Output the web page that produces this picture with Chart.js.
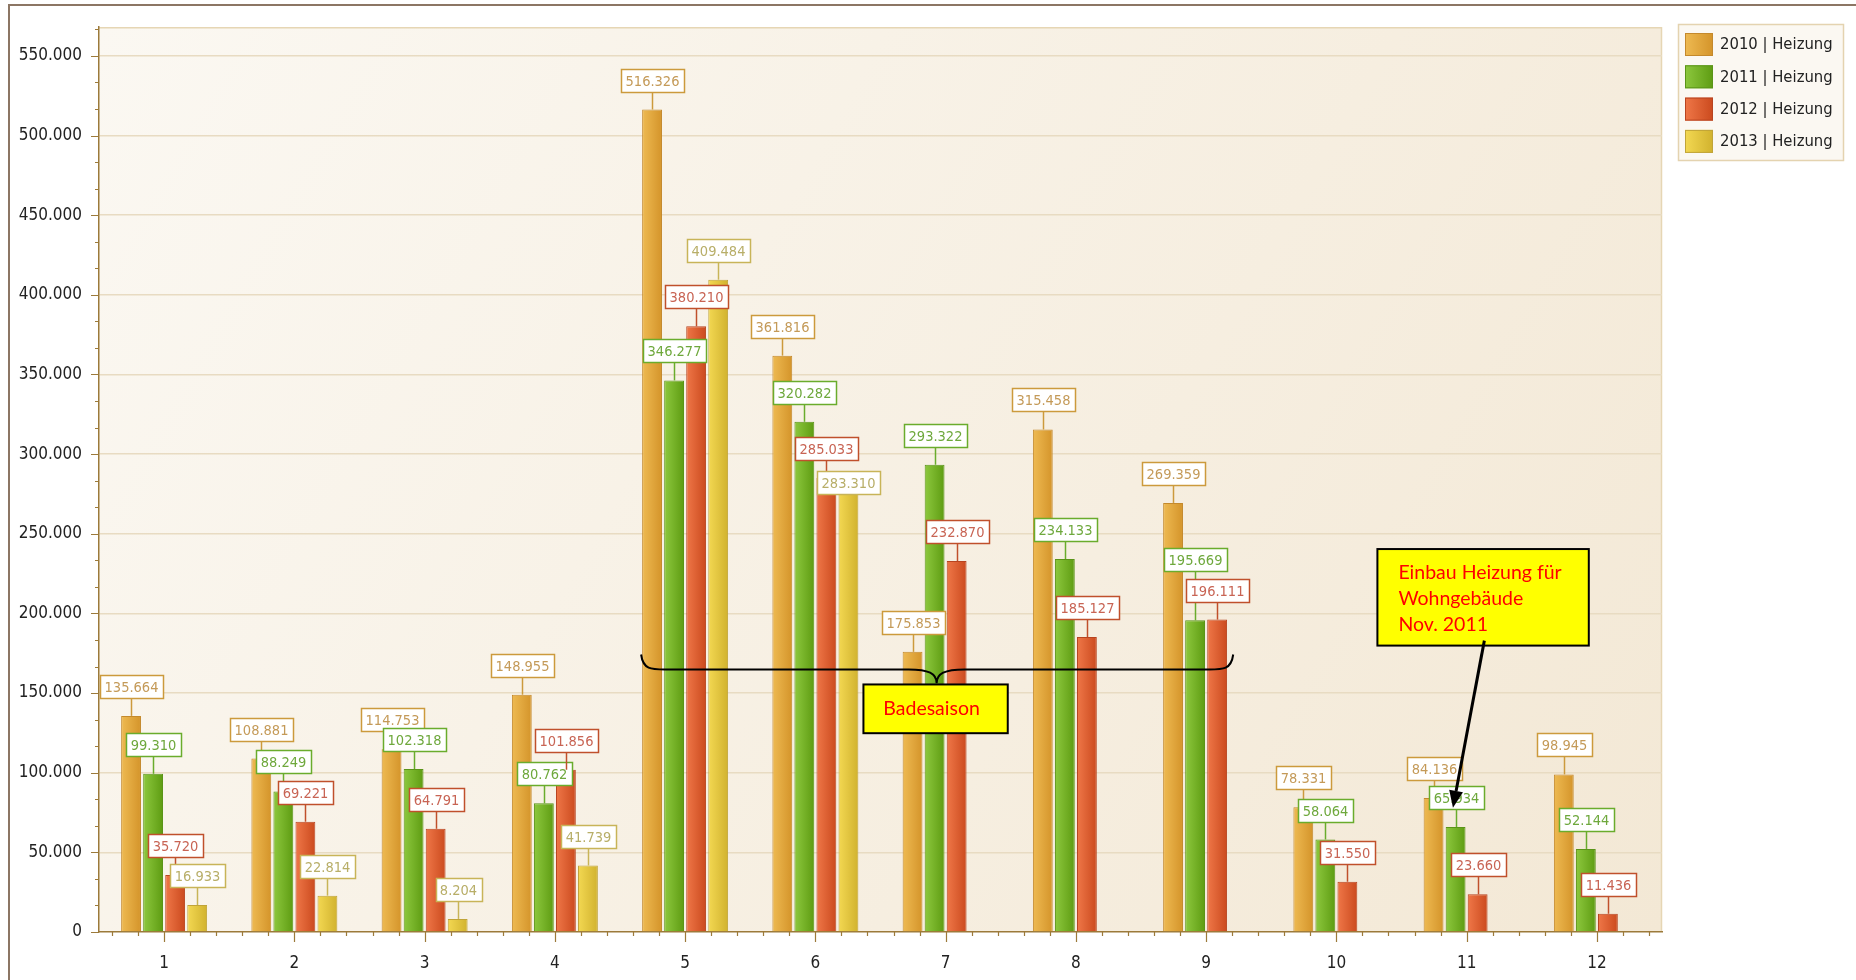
<!DOCTYPE html>
<html>
<head>
<meta charset="utf-8">
<script src="https://cdn.jsdelivr.net/npm/chart.js@4/dist/chart.umd.min.js"></script>
<style>
  html, body { margin: 0; padding: 0; background: #ffffff; }
  #wrap { position: relative; width: 1856px; height: 980px; overflow: hidden; }
  #frame { position: absolute; left: 8px; top: 4px; right: -10px; bottom: -10px;
           border-top: 2px solid #8C7664; border-left: 2px solid #8C7664; pointer-events: none; }
  canvas { position: absolute; left: 0; top: 0; }
</style>
</head>
<body>
<div id="wrap">
  <canvas id="c" width="1856" height="980"></canvas>
  <div id="frame"></div>
</div>
<script>
// ---------------- data ----------------
const months = ['1', '2', '3', '4', '5', '6', '7', '8', '9', '10', '11', '12'];
const seriesLabels = ['2010 | Heizung', '2011 | Heizung', '2012 | Heizung', '2013 | Heizung'];
const heizung2010 = [135664, 108881, 114753, 148955, 516326, 361816, 175853, 315458, 269359, 78331, 84136, 98945];
const heizung2011 = [99310, 88249, 102318, 80762, 346277, 320282, 293322, 234133, 195669, 58064, 65934, 52144];
const heizung2012 = [35720, 69221, 64791, 101856, 380210, 285033, 232870, 185127, 196111, 31550, 23660, 11436];
const heizung2013 = [16933, 22814, 8204, 41739, 409484, 283310, null, null, null, null, null, null];
const yTickValues = [0, 50000, 100000, 150000, 200000, 250000, 300000, 350000, 400000, 450000, 500000, 550000];
const yTickStep = 50000;
const yMax = 568000;
const noteSeason = 'Badesaison';
const noteHeating = ['Einbau Heizung für', 'Wohngebäude', 'Nov. 2011'];

// ---------------- styles ----------------
const FONT = '"DejaVu Sans Condensed", "DejaVu Sans", sans-serif';
const NOTE_FONT = 'Lato, "Open Sans", sans-serif';
const styles = [
  { light: '#EEBA52', dark: '#D4942A', border: '#C4892C', lblBorder: '#CC9A3C', lblText: '#C49A58' },
  { light: '#8DC83E', dark: '#5E9C12', border: '#5A9418', lblBorder: '#6AAC2C', lblText: '#6EA83C' },
  { light: '#EF7748', dark: '#CB4A1E', border: '#B84420', lblBorder: '#C0502C', lblText: '#C86454' },
  { light: '#F3D852', dark: '#D1B22E', border: '#C0A438', lblBorder: '#C8B458', lblText: '#B8AE68' }
];
const CAT_PCT = 0.677, BAR_PCT = 0.9;
// labels the original chart moved to avoid overlapping a neighbour (series, month index, direction)
const labelNudges = [{ series: 3, month: 5, dir: 1 }, { series: 1, month: 8, dir: -1 }];

function fmt(v) { return String(Math.round(v)).replace(/\B(?=(\d{3})+(?!\d))/g, '.'); }

function barFill(ctx) {
  const chart = ctx.chart;
  const st = styles[ctx.datasetIndex];
  const xs = chart.scales.x;
  if (!chart.chartArea || !xs || ctx.dataIndex === undefined) return st.dark;
  const catW = xs.width / months.length;
  const slot = catW * CAT_PCT / 4;
  const c = xs.getPixelForValue(ctx.dataIndex) + (ctx.datasetIndex - 1.5) * slot;
  const w = slot * BAR_PCT;
  const g = chart.ctx.createLinearGradient(c - w / 2, 0, c + w / 2, 0);
  g.addColorStop(0, st.light);
  g.addColorStop(1, st.dark);
  return g;
}

const seriesData = [heizung2010, heizung2011, heizung2012, heizung2013];
const datasets = seriesData.map((d, i) => ({
  label: seriesLabels[i],
  data: d,
  backgroundColor: barFill,
  borderColor: styles[i].border,
  borderWidth: 1,
  categoryPercentage: CAT_PCT,
  barPercentage: BAR_PCT
}));

// ---------------- plugins ----------------
const plotBg = {
  id: 'plotBg',
  beforeDraw(chart) {
    const { ctx, chartArea: a } = chart;
    const g = ctx.createLinearGradient(a.left, a.top, a.right, a.bottom);
    g.addColorStop(0, '#FBF8F2');
    g.addColorStop(1, '#F3E8D5');
    ctx.save();
    ctx.fillStyle = g;
    ctx.fillRect(a.left, a.top, a.right - a.left, a.bottom - a.top);
    ctx.strokeStyle = '#E6D6B4';
    ctx.lineWidth = 1.5;
    ctx.beginPath();
    ctx.moveTo(a.left, a.top + 0.5); ctx.lineTo(a.right - 0.5, a.top + 0.5); ctx.lineTo(a.right - 0.5, a.bottom);
    ctx.stroke();
    ctx.restore();
  }
};

const axisTicks = {
  id: 'axisTicks',
  afterDraw(chart) {
    const { ctx, chartArea: a } = chart;
    const ys = chart.scales.y, xs = chart.scales.x;
    ctx.save();
    ctx.strokeStyle = '#9C7A3A';
    ctx.lineWidth = 1.2;
    ctx.beginPath();
    const minor = yTickStep / 3;
    for (let k = 0; k * minor <= yMax + 1; k++) {
      const y = Math.round(ys.getPixelForValue(k * minor)) + 0.5;
      ctx.moveTo(a.left, y); ctx.lineTo(a.left - (k % 3 === 0 ? 8 : 4), y);
    }
    for (let i = -1; i <= months.length; i++) {
      for (let k = 0; k < 5; k++) {
        const x = Math.round(xs.getPixelForValue(i + k / 5)) + 0.5;
        if (x < a.left + 2 || x > a.right - 2) continue;
        ctx.moveTo(x, a.bottom); ctx.lineTo(x, a.bottom + (k === 0 ? 10 : 4));
      }
    }
    ctx.stroke();
    ctx.restore();
  }
};

const valueLabels = {
  id: 'valueLabels',
  afterDatasetsDraw(chart) {
    const ctx = chart.ctx;
    ctx.save();
    ctx.font = '14.5px ' + FONT;
    ctx.textAlign = 'center';
    ctx.textBaseline = 'middle';
    const h = 23, stem = 18, gapShift = 31;
    chart.data.datasets.forEach((ds, di) => {
      const meta = chart.getDatasetMeta(di);
      const st = styles[di];
      meta.data.forEach((el, i) => {
        const v = ds.data[i];
        if (v === null || v === undefined) return;
        const nudge = labelNudges.find(n => n.series === di && n.month === i);
        const dy = nudge ? nudge.dir * gapShift : 0;
        const x = Math.round(el.x) + 0.5;
        const top = el.y;
        const txt = fmt(v);
        const w = Math.round(ctx.measureText(txt).width) + 9;
        const bb = Math.round(top - stem + dy) + 0.5;
        ctx.strokeStyle = st.lblBorder;
        ctx.lineWidth = 1.5;
        if (bb < top) { ctx.beginPath(); ctx.moveTo(x, top); ctx.lineTo(x, bb); ctx.stroke(); }
        ctx.fillStyle = '#FFFFFF';
        const bx = Math.round(x - w / 2) + 0.5;
        ctx.fillRect(bx, bb - h, w, h);
        ctx.strokeRect(bx, bb - h, w, h);
        ctx.fillStyle = st.lblText;
        ctx.fillText(txt, x, bb - h / 2 + 1);
      });
    });
    ctx.restore();
  }
};

// annotation anchors in data space (category index, value)
const braceAnchor = { x0: 3.662, x1: 8.208, xm: 5.931, yEnd: 174200, yLine: 164800, yTip: 156100 };
const seasonBox = { x0: 5.369, x1: 6.477, y0: 155400, y1: 124800 };
const heatBox = { x0: 9.315, x1: 10.938, y0: 240400, y1: 179800 };
const heatArrow = { x0: 10.136, y0: 182900, x1: 9.895, y1: 78000 };

const annotations = {
  id: 'annotations',
  afterDraw(chart) {
    const { ctx } = chart;
    const xs = chart.scales.x, ys = chart.scales.y;
    const X = v => xs.getPixelForValue(v), Y = v => ys.getPixelForValue(v);
    ctx.save();
    const L = X(braceAnchor.x0), R = X(braceAnchor.x1), M = X(braceAnchor.xm);
    const yE = Y(braceAnchor.yEnd), yL = Y(braceAnchor.yLine), yT = Y(braceAnchor.yTip);
    ctx.strokeStyle = '#000'; ctx.lineWidth = 2;
    ctx.beginPath();
    ctx.moveTo(L, yE);
    ctx.bezierCurveTo(L + 2, yL, L + 10, yL, L + 24, yL);
    ctx.lineTo(M - 28, yL);
    ctx.bezierCurveTo(M - 8, yL, M, yL + 4, M, yT);
    ctx.bezierCurveTo(M, yL + 4, M + 8, yL, M + 28, yL);
    ctx.lineTo(R - 24, yL);
    ctx.bezierCurveTo(R - 10, yL, R - 2, yL, R, yE);
    ctx.stroke();

    let bx0 = X(seasonBox.x0), bx1 = X(seasonBox.x1), by0 = Y(seasonBox.y0), by1 = Y(seasonBox.y1);
    ctx.fillStyle = '#FFFF00';
    ctx.fillRect(bx0, by0, bx1 - bx0, by1 - by0);
    ctx.lineWidth = 2; ctx.strokeStyle = '#000';
    ctx.strokeRect(bx0, by0, bx1 - bx0, by1 - by0);
    ctx.fillStyle = '#FF0000';
    ctx.font = '19.5px ' + NOTE_FONT;
    ctx.textAlign = 'center'; ctx.textBaseline = 'middle';
    ctx.fillText(noteSeason, (bx0 + bx1) / 2 - 4, (by0 + by1) / 2);

    bx0 = X(heatBox.x0); bx1 = X(heatBox.x1); by0 = Y(heatBox.y0); by1 = Y(heatBox.y1);
    ctx.fillStyle = '#FFFF00';
    ctx.fillRect(bx0, by0, bx1 - bx0, by1 - by0);
    ctx.strokeRect(bx0, by0, bx1 - bx0, by1 - by0);
    ctx.fillStyle = '#FF0000';
    ctx.textAlign = 'left'; ctx.textBaseline = 'alphabetic';
    noteHeating.forEach((t, i) => ctx.fillText(t, bx0 + 21, by0 + 30 + i * 26));

    const ax0 = X(heatArrow.x0), ay0 = Y(heatArrow.y0), ax1 = X(heatArrow.x1), ay1 = Y(heatArrow.y1);
    const ang = Math.atan2(ay1 - ay0, ax1 - ax0);
    const hl = 17, hw = 7;
    const bxh = ax1 - hl * Math.cos(ang), byh = ay1 - hl * Math.sin(ang);
    ctx.lineWidth = 3; ctx.strokeStyle = '#000';
    ctx.beginPath(); ctx.moveTo(ax0, ay0); ctx.lineTo(bxh, byh); ctx.stroke();
    ctx.fillStyle = '#000';
    ctx.beginPath();
    ctx.moveTo(ax1, ay1);
    ctx.lineTo(bxh + hw * Math.sin(ang), byh - hw * Math.cos(ang));
    ctx.lineTo(bxh - hw * Math.sin(ang), byh + hw * Math.cos(ang));
    ctx.closePath(); ctx.fill();
    ctx.restore();
  }
};

const legendBox = {
  id: 'legendBox',
  afterDraw(chart) {
    const ctx = chart.ctx;
    ctx.save();
    const lx = 1678, ly = 24, lw = 165, lh = 136;
    ctx.fillStyle = '#FBF8F2';
    ctx.fillRect(lx, ly, lw, lh);
    ctx.strokeStyle = '#E4D3B0'; ctx.lineWidth = 1.5;
    ctx.strokeRect(lx + 0.5, ly + 0.5, lw, lh);
    ctx.font = '16.5px ' + FONT;
    ctx.textBaseline = 'middle'; ctx.textAlign = 'left';
    chart.data.datasets.forEach((ds, i) => {
      const cy = ly + 20 + i * 32.3;
      const st = styles[i];
      const g = ctx.createLinearGradient(lx + 7, 0, lx + 35, 0);
      g.addColorStop(0, st.light); g.addColorStop(1, st.dark);
      ctx.fillStyle = g;
      ctx.fillRect(lx + 7, cy - 11, 28, 23);
      ctx.strokeStyle = st.border; ctx.lineWidth = 1;
      ctx.strokeRect(lx + 7.5, cy - 10.5, 27, 22);
      ctx.fillStyle = '#222';
      ctx.fillText(ds.label, lx + 42, cy + 1);
    });
    ctx.restore();
  }
};

// ---------------- chart ----------------
new Chart(document.getElementById('c'), {
  type: 'bar',
  data: { labels: months, datasets },
  options: {
    responsive: false,
    animation: false,
    layout: { padding: { left: 0, top: 22, right: 194, bottom: 0 } },
    plugins: { legend: { display: false }, tooltip: { enabled: false } },
    scales: {
      x: {
        offset: true,
        grid: { display: false, drawTicks: false },
        border: { display: true, color: '#9C7A3A', width: 1.5 },
        ticks: { color: '#222', font: { family: FONT, size: 17 }, padding: 21 },
        afterFit(s) { s.height = 48; }
      },
      y: {
        min: 0, max: yMax,
        afterBuildTicks(s) { s.ticks = yTickValues.map(v => ({ value: v })); },
        grid: {
          drawTicks: false,
          color: c => (c.tick && c.tick.value > 0) ? '#E8DBC2' : 'transparent',
          lineWidth: 1.5
        },
        border: { display: true, color: '#9C7A3A', width: 1.5 },
        ticks: {
          color: '#222',
          autoSkip: false,
          font: { family: FONT, size: 17 },
          padding: 17,
          callback: v => fmt(v)
        },
        afterFit(s) { s.width = 99; }
      }
    }
  },
  plugins: [plotBg, axisTicks, valueLabels, annotations, legendBox]
});
</script>
</body>
</html>
